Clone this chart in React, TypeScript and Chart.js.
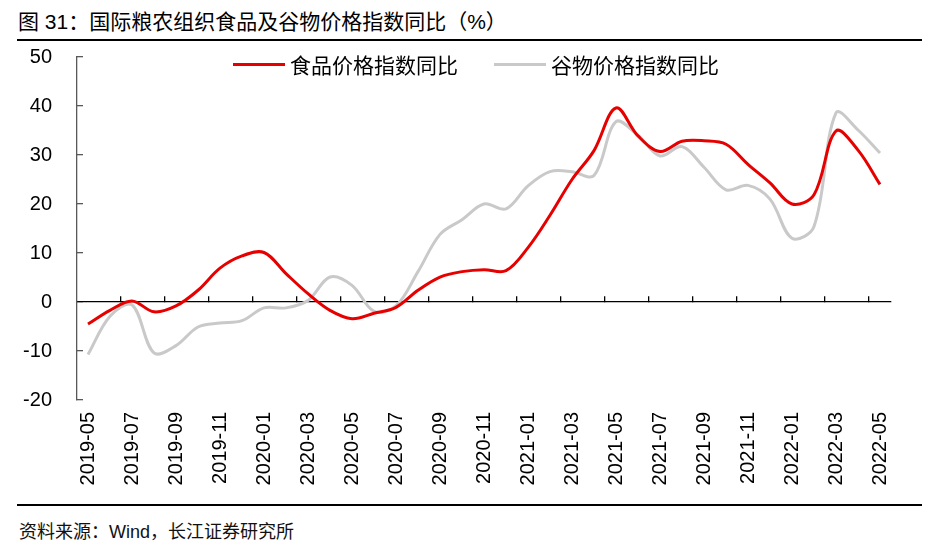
import React, { useEffect, useRef } from "react";
import { Chart, registerables } from "chart.js";

Chart.register(...registerables);

// ---- data ----
const categories = [
  "2019-05", "2019-06", "2019-07", "2019-08", "2019-09", "2019-10", "2019-11", "2019-12",
  "2020-01", "2020-02", "2020-03", "2020-04", "2020-05", "2020-06", "2020-07", "2020-08",
  "2020-09", "2020-10", "2020-11", "2020-12", "2021-01", "2021-02", "2021-03", "2021-04",
  "2021-05", "2021-06", "2021-07", "2021-08", "2021-09", "2021-10", "2021-11", "2021-12",
  "2022-01", "2022-02", "2022-03", "2022-04", "2022-05",
];

const foodYoY = [
  -4.5, -1.7, 0.2, -2.0, -0.8, 2.4, 6.9, 9.4,
  10.1, 5.8, 1.7, -1.7, -3.4, -2.3, -1.1, 2.4,
  5.1, 6.2, 6.6, 6.4, 11.1, 17.7, 25.0, 30.9,
  39.6, 33.9, 30.7, 32.8, 32.9, 32.2, 28.1, 24.3,
  20.0, 21.9, 34.9, 31.0, 24.0,
];

const cerealYoY = [
  -10.7, -2.9, -0.6, -10.4, -8.9, -5.1, -4.3, -3.8,
  -1.2, -1.2, 0.3, 5.1, 3.4, -1.9, -0.8, 6.2,
  13.8, 16.8, 20.0, 19.0, 23.7, 26.6, 26.6, 25.8,
  36.8, 34.0, 29.8, 31.7, 27.5, 22.9, 23.8, 21.0,
  13.0, 15.4, 38.6, 35.1, 30.4,
];

const yMin = -20;
const yMax = 50;
const yStep = 10;

const seriesNames = ["食品价格指数同比", "谷物价格指数同比"];
const seriesColors = ["#E60000", "#C9C9C9"];

const titleText = "图 31：国际粮农组织食品及谷物价格指数同比（%）";
const sourceText = "资料来源：Wind，长江证券研究所";

// ---- layout ----
const LATIN = '"Liberation Sans", Arial, "Noto Sans CJK SC", sans-serif';
const CJK = '"Noto Sans CJK SC", "Liberation Sans", sans-serif';
const CANVAS_TOP = 45;
const CANVAS_W = 943;
const CANVAS_H = 460;
const TARGET = { left: 77, right: 891, top: 57 - CANVAS_TOP, bottom: 400 - CANVAS_TOP };

export default function App() {
  const canvasRef = useRef<HTMLCanvasElement | null>(null);

  useEffect(() => {
    if (!canvasRef.current) return;
    const padding = { left: 0, right: 40, top: 10, bottom: 0 };
    const chart = new Chart(canvasRef.current, {
      type: "line",
      data: {
        labels: categories,
        datasets: [
          {
            label: seriesNames[0],
            data: foodYoY,
            borderColor: seriesColors[0],
            backgroundColor: seriesColors[0],
            borderWidth: 3,
            pointRadius: 0,
            tension: 0.35,
            xAxisID: "x",
            order: 0,
          },
          {
            label: seriesNames[1],
            data: cerealYoY,
            borderColor: seriesColors[1],
            backgroundColor: seriesColors[1],
            borderWidth: 3,
            pointRadius: 0,
            tension: 0.35,
            xAxisID: "x",
            order: 1,
          },
        ],
      },
      options: {
        animation: false,
        responsive: true,
        maintainAspectRatio: false,
        layout: { padding },
        plugins: {
          legend: { display: false },
          tooltip: { enabled: false },
          title: { display: false },
        },
        scales: {
          x: {
            type: "category",
            position: "bottom",
            offset: true,
            grid: { display: false },
            border: { display: false },
            ticks: {
              autoSkip: false,
              minRotation: 90,
              maxRotation: 90,
              padding: 4,
              color: "#000",
              font: { family: LATIN, size: 20 },
              callback: (_v: any, i: number) => (i % 2 === 0 ? categories[i] : ""),
            },
          },
          x0: {
            type: "category",
            position: { y: 0 } as any,
            offset: true,
            labels: categories,
            grid: {
              offset: true,
              drawOnChartArea: false,
              drawTicks: true,
              tickLength: -6,
              lineWidth: 1.3,
              color: (ctx: any) =>
                ctx.index % 2 === 0 && ctx.index >= 2 && ctx.index <= categories.length - 1
                  ? "#000"
                  : "rgba(0,0,0,0)",
            },
            border: { display: true, color: "#000", width: 1.3 },
            ticks: { display: false },
          },
          y: {
            type: "linear",
            position: "left",
            min: yMin,
            max: yMax,
            afterFit: (s: any) => {
              s.paddingTop = 0;
              s.paddingBottom = 0;
            },
            ticks: {
              stepSize: yStep,
              padding: 31,
              color: "#000",
              font: { family: LATIN, size: 20 },
            },
            grid: {
              drawOnChartArea: false,
              drawTicks: true,
              tickLength: -6,
              lineWidth: 1.3,
              color: "#595959",
            },
            border: { display: true, color: "#595959", width: 1.3 },
          },
        },
      },
    });

    for (let k = 0; k < 3; k++) {
      const ca = chart.chartArea;
      padding.left += TARGET.left - ca.left;
      padding.top += TARGET.top - ca.top;
      padding.right += ca.right - TARGET.right;
      padding.bottom += ca.bottom - TARGET.bottom;
      chart.options.layout!.padding = { ...padding };
      chart.update();
    }

    return () => chart.destroy();
  }, []);

  const legendItems = [
    { lineLeft: 233, textLeft: 290 },
    { lineLeft: 494, textLeft: 551 },
  ];

  return (
    <div
      style={{
        position: "absolute",
        left: 0,
        top: 0,
        width: 943,
        height: 559,
        background: "#fff",
        overflow: "hidden",
      }}
    >
      <div
        style={{
          position: "absolute",
          left: 18,
          top: 10,
          fontFamily: LATIN,
          fontSize: 21,
          lineHeight: "24px",
          color: "#000",
          whiteSpace: "nowrap",
        }}
      >
        {titleText}
      </div>
      <div
        style={{ position: "absolute", left: 17, top: 38.5, width: 905, height: 2.7, background: "#000" }}
      />
      <div
        style={{ position: "absolute", left: 0, top: CANVAS_TOP, width: CANVAS_W, height: CANVAS_H }}
      >
        <canvas ref={canvasRef} />
      </div>
      {seriesNames.map((name, i) => (
        <React.Fragment key={name}>
          <div
            style={{
              position: "absolute",
              left: legendItems[i].lineLeft,
              top: 62.5,
              width: 52,
              height: 3,
              background: seriesColors[i],
            }}
          />
          <div
            style={{
              position: "absolute",
              left: legendItems[i].textLeft,
              top: 51,
              fontFamily: CJK,
              fontSize: 21,
              lineHeight: "26px",
              color: "#000",
              whiteSpace: "nowrap",
            }}
          >
            {name}
          </div>
        </React.Fragment>
      ))}
      <div
        style={{ position: "absolute", left: 17, top: 503.5, width: 905, height: 2.7, background: "#000" }}
      />
      <div
        style={{
          position: "absolute",
          left: 19,
          top: 521,
          fontFamily: LATIN,
          fontSize: 18,
          lineHeight: "22px",
          color: "#111",
          whiteSpace: "nowrap",
        }}
      >
        {sourceText}
      </div>
    </div>
  );
}
